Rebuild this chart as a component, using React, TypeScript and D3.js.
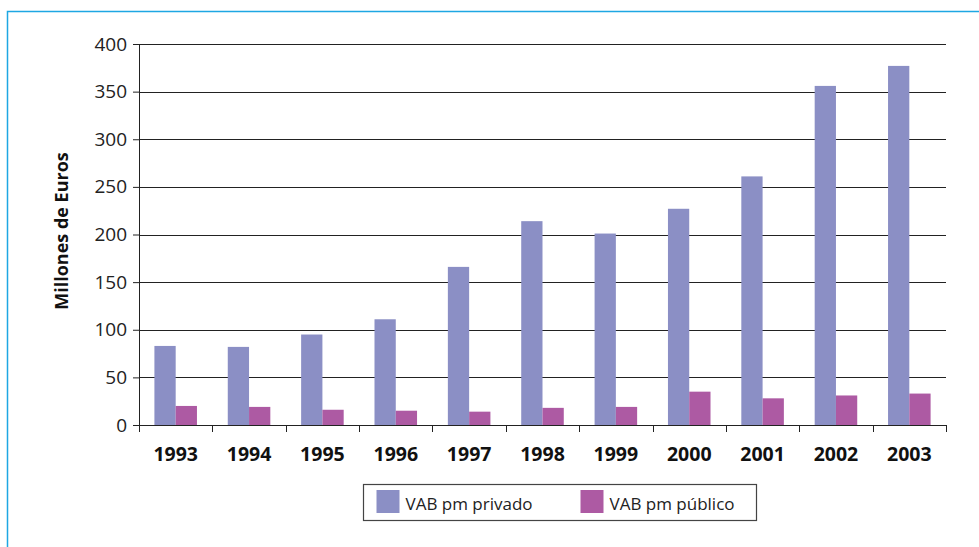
import React from 'react';
import * as d3 from 'd3';

const years = ['1993', '1994', '1995', '1996', '1997', '1998', '1999', '2000', '2001', '2002', '2003'];
const privado = [83, 82, 95, 111, 166, 214, 201, 227, 261, 356, 377];
const publico = [20, 19, 16, 15, 14, 18, 19, 35, 28, 31, 33];
const yTicks = [0, 50, 100, 150, 200, 250, 300, 350, 400];
const seriesNames = ['VAB pm privado', 'VAB pm público'];
const colors = ['#8b8fc5', '#ad5aa3'];

const W = 979;
const H = 547;
const margin = { top: 44, right: 33, bottom: 122, left: 139 };
const font = '"Open Sans", "Noto Sans", sans-serif';

const App = () => {
  const svgRef = React.useRef<SVGSVGElement>(null);

  React.useEffect(() => {
    const svg = d3.select(svgRef.current);
    svg.selectAll('*').remove();

    const width = W - margin.left - margin.right;
    const height = H - margin.top - margin.bottom;

    // frame
    svg.append('rect')
      .attr('x', 7.5).attr('y', 11.5)
      .attr('width', W + 20).attr('height', H + 20)
      .attr('fill', 'none')
      .attr('stroke', '#1ea7e3')
      .attr('stroke-width', 1.5);

    const g = svg.append('g').attr('transform', `translate(${margin.left},${margin.top})`);

    const x = d3.scaleBand().domain(years).range([0, width]).paddingInner(0).paddingOuter(0);
    const gap = 0.21;
    const x1 = d3.scaleBand().domain(['0', '1']).range([x.bandwidth() * gap, x.bandwidth() * (1 - gap)]);
    const y = d3.scaleLinear().domain([0, 400]).range([height, 0]);

    // gridlines
    g.selectAll('.grid')
      .data(yTicks.filter(t => t > 0))
      .join('line')
      .attr('x1', 0).attr('x2', width)
      .attr('y1', d => Math.round(y(d)) + 0.5).attr('y2', d => Math.round(y(d)) + 0.5)
      .attr('stroke', '#222')
      .attr('stroke-width', 1.2);

    // bars
    const series = [privado, publico];
    series.forEach((vals, si) => {
      g.selectAll(`.bar${si}`)
        .data(vals)
        .join('rect')
        .attr('x', (d, i) => (x(years[i]) as number) + (x1(String(si)) as number))
        .attr('y', d => y(d))
        .attr('width', x1.bandwidth())
        .attr('height', d => height - y(d))
        .attr('fill', colors[si]);
    });

    // y axis
    const yAxis = g.append('g')
      .call(d3.axisLeft(y).tickValues(yTicks).tickSize(6).tickPadding(6).tickFormat(d3.format('d')));
    yAxis.selectAll('text').style('font-size', '19px').style('font-family', font).attr('fill', '#222');
    yAxis.selectAll('line').attr('stroke', '#222');
    yAxis.select('.domain').attr('stroke', '#222').attr('d', `M0.5,${height}V0`);

    // x axis
    const xAxis = g.append('g').attr('transform', `translate(0,${height})`)
      .call(d3.axisBottom(x).tickSize(0).tickPadding(22));
    xAxis.select('.domain').attr('stroke', '#222').attr('stroke-width', 1.2);
    xAxis.selectAll('text')
      .style('font-size', '19.5px').style('font-weight', 'bold').style('font-family', font)
      .attr('fill', '#111');
    g.selectAll('.xtick')
      .data(d3.range(years.length + 1))
      .join('line')
      .attr('x1', i => Math.round(i * x.bandwidth()) + 0.5)
      .attr('x2', i => Math.round(i * x.bandwidth()) + 0.5)
      .attr('y1', height).attr('y2', height + 7)
      .attr('stroke', '#222');

    // y title
    svg.append('text')
      .attr('transform', `translate(68,231) rotate(-90)`)
      .attr('text-anchor', 'middle')
      .style('font-family', font)
      .style('font-size', '18px')
      .style('font-weight', 'bold')
      .attr('fill', '#111')
      .text('Millones de Euros');

    // legend
    const lg = svg.append('g').attr('transform', 'translate(363.5,484.5)');
    lg.append('rect')
      .attr('width', 393).attr('height', 36)
      .attr('fill', '#fff').attr('stroke', '#444').attr('stroke-width', 1.2);
    const offs = [13, 217];
    seriesNames.forEach((name, i) => {
      lg.append('rect')
        .attr('x', offs[i]).attr('y', 5.5)
        .attr('width', 23).attr('height', 23)
        .attr('fill', colors[i]);
      lg.append('text')
        .attr('x', offs[i] + 29).attr('y', 25)
        .style('font-family', font)
        .style('font-size', '17px')
        .attr('fill', '#222')
        .text(name);
    });
  }, []);

  return <svg ref={svgRef} width={W} height={H} style={{ display: 'block', position: 'absolute', left: 0, top: 0 }} />;
};

export default App;
